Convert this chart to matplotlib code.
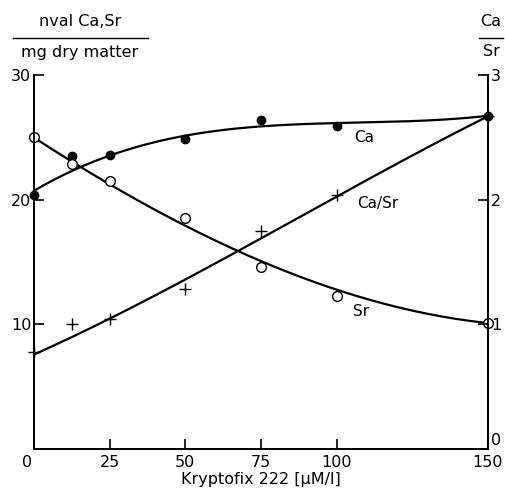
import numpy as np
import matplotlib
matplotlib.use("Agg")
import matplotlib.pyplot as plt
import matplotlib.transforms as mtransforms
from matplotlib.lines import Line2D

# Data
x_ca = [0, 12.5, 25, 50, 75, 100, 150]
ca = [20.4, 23.5, 23.6, 24.9, 26.4, 25.9, 26.7]
x_sr = [0, 12.5, 25, 50, 75, 100, 150]
sr = [25.0, 22.9, 21.5, 18.5, 14.6, 12.3, 10.1]
x_ratio = [0, 12.5, 25, 50, 75, 100, 150]
ratio = [0.78, 1.00, 1.04, 1.28, 1.75, 2.04, 2.67]

# Hand-drawn curve points
cx = [0, 14, 25, 50, 75, 100, 150]
ca_curve = [20.5, 22.8, 23.6, 24.9, 25.8, 26.3, 26.7]
sr_curve = [25.0, 22.8, 21.2, 18.0, 15.0, 12.8, 10.1]
rx = [0, 25, 67, 100, 150]
ratio_curve = [0.76, 1.04, 1.59, 2.02, 2.67]

xticks = [0, 25, 50, 75, 100, 150]
yticks_left = [10, 20, 30]
yticks_right = [0, 1, 2, 3]

plt.rcParams['font.family'] = ['DejaVu Sans']
fig = plt.figure(figsize=(5.06, 4.99), dpi=100)
ax = fig.add_axes([34/506, 1-449/499, (488-34)/506, (449-75)/499])
ax2 = ax.twinx()

ax.set_xlim(0, 150)
ax.set_ylim(0, 30)
ax2.set_ylim(0, 3)

grid = np.linspace(0, 150, 300)
for xs, ys, a in [(cx, ca_curve, ax), (cx, sr_curve, ax), (rx, ratio_curve, ax2)]:
    p = np.polyfit(xs, ys, 3)
    a.plot(grid, np.polyval(p, grid), color='black', lw=1.6, clip_on=False, zorder=2)

ax.plot(x_ca, ca, 'o', color='black', ms=6, clip_on=False, zorder=3)
ax.plot(x_sr, sr, 'o', mfc='white', mec='black', mew=1.0, ms=7, clip_on=False, zorder=3)
ax2.plot(x_ratio, ratio, '+', color='black', ms=9, mew=1.0, clip_on=False, zorder=3)

ax.text(109, 25.0, 'Ca', fontsize=11, ha='center', va='center')
ax.text(113.5, 19.7, 'Ca/Sr', fontsize=11, ha='center', va='center')
ax.text(108, 11.0, 'Sr', fontsize=11, ha='center', va='center')

for a in (ax, ax2):
    a.spines['top'].set_visible(False)
    for s in a.spines.values():
        s.set_linewidth(1.3)

ax.set_xticks(xticks)
ax.set_yticks(yticks_left)
ax2.set_yticks(yticks_right)
ax.tick_params(axis='x', direction='in', length=7, width=1.2, labelsize=11.5, pad=4)
ax.tick_params(axis='y', direction='in', length=7, width=1.2, labelsize=11.5, pad=2)
ax2.tick_params(axis='y', direction='in', length=7, width=1.2, labelsize=11.5, pad=2)
ax.set_xlabel('Kryptofix 222 [μM/l]', fontsize=11.5, labelpad=2)

# Shift the right-axis "0" label up to avoid the "150" label, and x "0" slightly left
fig.canvas.draw()
lab0 = ax2.get_yticklabels()[0]
lab0.set_transform(lab0.get_transform() + mtransforms.ScaledTranslation(0, 7/72, fig.dpi_scale_trans))
labx0 = ax.get_xticklabels()[0]
labx0.set_transform(labx0.get_transform() + mtransforms.ScaledTranslation(-5/72, 0, fig.dpi_scale_trans))

# Unit labels
fig.text(80/506, 1-22/499, 'nval Ca,Sr', fontsize=11.5, ha='center', va='center')
fig.text(80/506, 1-52/499, 'mg dry matter', fontsize=11.5, ha='center', va='center')
fig.add_artist(Line2D([13/506, 148/506], [1-38/499, 1-38/499], color='black', lw=1.0))
fig.text(491/506, 1-22/499, 'Ca', fontsize=11.5, ha='center', va='center')
fig.text(491/506, 1-52/499, 'Sr', fontsize=11.5, ha='center', va='center')
fig.add_artist(Line2D([479/506, 503/506], [1-38/499, 1-38/499], color='black', lw=1.0))

fig.savefig('out.png', dpi=100)
